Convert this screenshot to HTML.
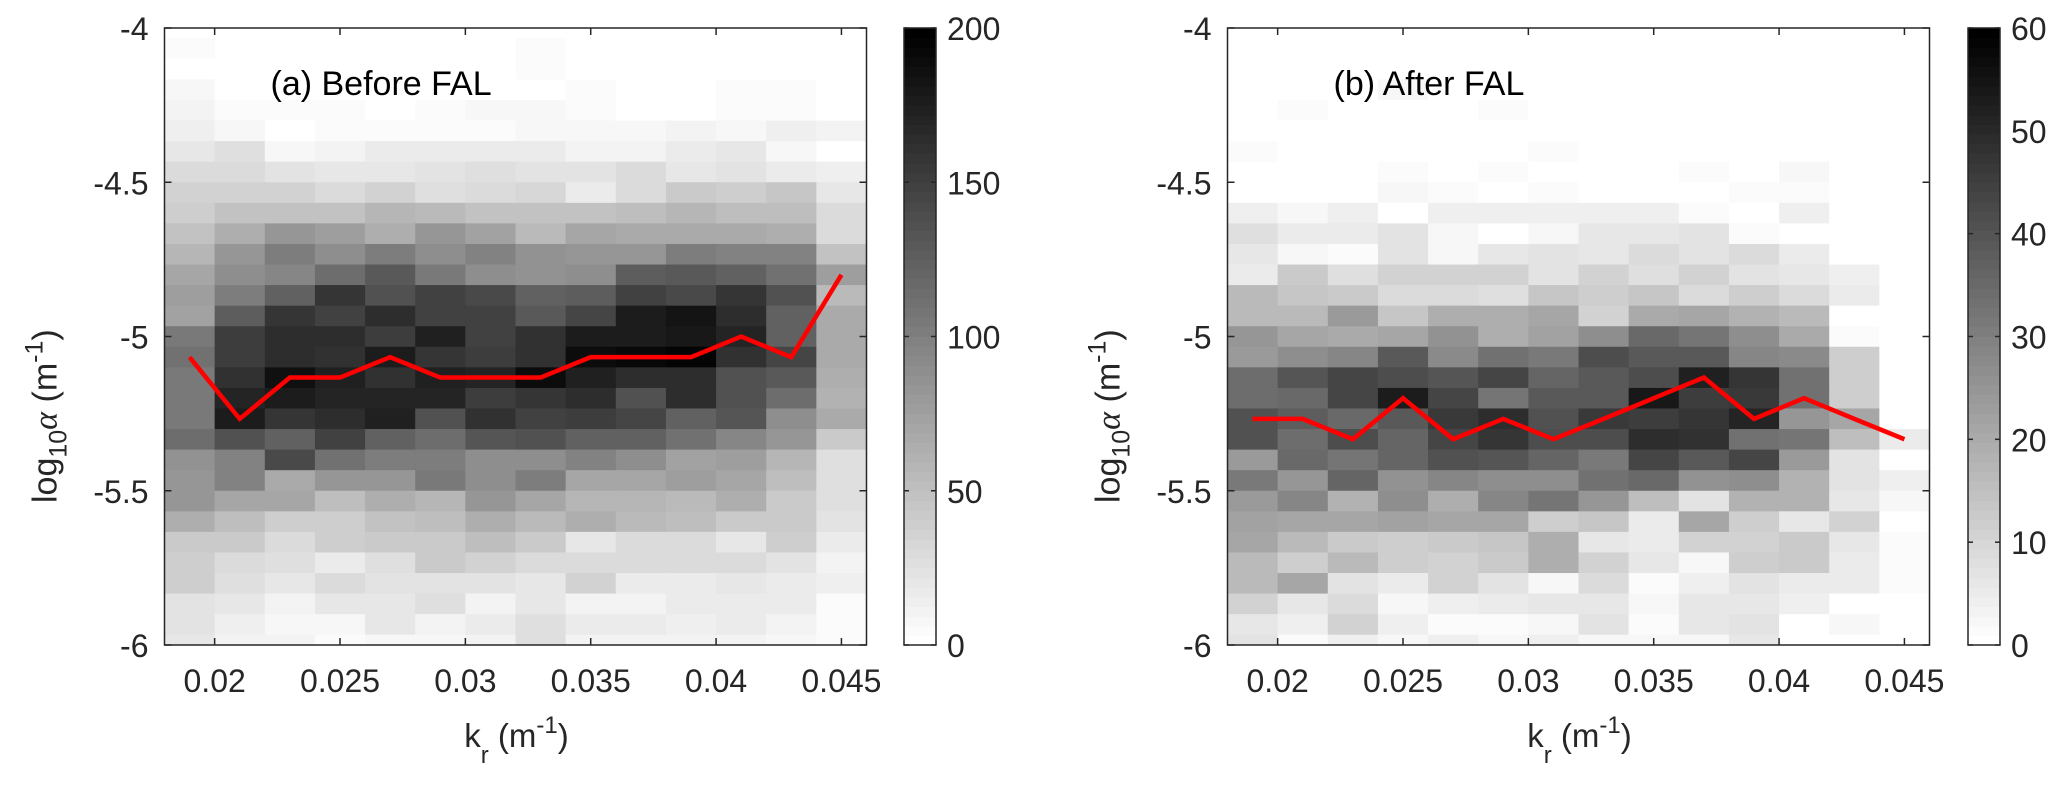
<!DOCTYPE html>
<html><head><meta charset="utf-8"><style>
html,body{margin:0;padding:0;background:#fff;}
svg{display:block;font-family:"Liberation Sans",Arial,sans-serif;}
</style></head><body>
<svg id="fig" width="2067" height="785" viewBox="0 0 2067 785" xmlns="http://www.w3.org/2000/svg"></svg>
<script>
// ---- data ----
const kCenters = [0.019,0.021,0.023,0.025,0.027,0.029,0.031,0.033,0.035,0.037,0.039,0.041,0.043,0.045];
const alphaRowTops = [-4.0333,-4.1,-4.1667,-4.2333,-4.3,-4.3667,-4.4333,-4.5,-4.5667,-4.6333,-4.7,-4.7667,-4.8333,-4.9,-4.9667,-5.0333,-5.1,-5.1667,-5.2333,-5.3,-5.3667,-5.4333,-5.5,-5.5667,-5.6333,-5.7,-5.7667,-5.8333,-5.9,-5.9667];
const xTicks = [0.02,0.025,0.03,0.035,0.04,0.045];
const xTickLabels = ["0.02","0.025","0.03","0.035","0.04","0.045"];
const yTicks = [-4,-4.5,-5,-5.5,-6];
const yTickLabels = ["-4","-4.5","-5","-5.5","-6"];
const cbTicksA = [0,50,100,150,200];
const cbTicksB = [0,10,20,30,40,50,60];
const countsA = [
[5,0,0,0,0,0,0,5,0,0,0,0,0,0],
[0,0,0,0,0,0,0,4,0,0,0,0,0,0],
[8,0,0,0,0,0,0,0,5,0,0,4,4,0],
[10,4,4,4,2,4,8,9,4,0,0,4,4,0],
[13,8,0,4,4,4,4,8,8,9,12,9,13,10],
[20,27,8,12,16,16,17,18,12,12,16,20,8,0],
[31,29,24,20,21,24,26,24,24,29,20,24,16,13],
[35,35,35,31,35,27,31,33,18,29,43,39,45,21],
[39,47,49,47,59,55,47,49,47,51,59,51,51,31],
[47,63,82,78,63,84,74,55,71,67,67,68,63,31],
[59,82,102,90,102,90,98,86,84,84,102,98,98,47],
[71,90,94,114,129,106,90,86,90,125,129,122,110,78],
[78,102,122,157,137,149,141,122,125,149,141,157,137,55],
[74,125,157,149,165,149,149,129,145,176,184,165,122,67],
[106,153,165,165,153,172,149,161,176,176,180,169,122,67],
[110,153,165,161,176,157,153,161,188,191,196,161,145,67],
[106,161,186,172,161,172,169,188,172,165,165,137,129,65],
[106,169,176,169,169,169,153,157,165,137,165,137,114,60],
[106,176,157,165,172,137,161,149,153,145,122,133,90,67],
[114,137,122,149,122,114,133,137,122,122,110,94,82,43],
[86,98,141,110,102,102,90,90,98,90,74,78,59,27],
[82,98,67,82,82,106,90,102,71,71,78,71,51,27],
[82,71,71,51,63,59,82,71,59,59,55,63,43,27],
[63,51,39,39,47,51,63,55,63,55,51,43,43,24],
[43,43,31,39,43,43,51,43,20,31,31,20,39,16],
[39,31,27,18,27,43,35,31,31,31,31,31,24,12],
[39,27,20,31,24,24,24,20,35,16,16,20,18,13],
[24,21,12,20,21,27,12,20,12,10,16,18,16,5],
[24,13,8,8,21,10,18,27,16,16,13,16,12,5],
[20,12,12,4,8,8,12,27,12,12,10,12,8,4]
];
const countsB = [
[0,0,0,0,0,0,0,0,0,0,0,0,0,0],
[0,0,0,0,0,0,0,0,0,0,0,0,0,0],
[0,0,0,2,0,0,0,0,0,0,0,0,0,0],
[0,1,0,0,0,1,0,0,0,0,0,0,0,0],
[0,0,0,0,0,0,0,0,0,0,0,0,0,0],
[1,0,0,0,0,0,1,0,0,0,0,0,0,0],
[0,0,0,1,0,1,0,0,0,1,0,2,0,0],
[0,0,0,2,1,0,1,0,0,0,1,1,0,0],
[4,2,4,0,4,4,4,4,4,1,0,4,0,0],
[8,5,5,7,2,0,2,6,6,7,1,0,0,0],
[6,2,1,7,2,6,7,6,9,7,9,5,0,0],
[5,13,8,11,11,11,7,11,8,11,7,6,4,0],
[16,14,13,9,9,8,14,12,14,9,12,9,5,0],
[16,16,24,14,19,19,21,11,20,21,18,16,0,0],
[25,21,20,21,26,19,22,27,35,32,27,20,1,0],
[24,27,29,39,28,33,31,42,39,39,29,28,12,0],
[34,40,44,42,40,44,36,39,42,52,47,33,12,0],
[34,35,44,53,44,32,39,39,54,45,46,33,12,0],
[41,38,35,39,46,49,41,46,45,47,51,25,21,0],
[41,34,42,36,44,47,42,42,49,48,33,32,15,5],
[24,35,32,36,41,40,36,31,44,39,44,24,7,0],
[31,25,36,26,29,27,27,33,35,26,27,18,7,4],
[24,29,18,27,19,29,32,25,15,7,18,18,6,2],
[22,21,21,22,21,21,12,14,5,21,12,6,11,0],
[21,16,13,12,13,14,19,6,5,11,11,13,6,1],
[16,12,16,12,11,13,19,11,6,2,12,13,5,1],
[16,21,7,5,11,7,2,9,1,4,7,5,5,1],
[11,6,9,2,4,5,6,6,2,6,6,4,0,0],
[6,4,11,4,1,1,2,7,1,6,7,0,2,0],
[7,1,4,2,4,2,4,2,2,2,6,0,0,0]
];
const medianA = [-5.067,-5.267,-5.133,-5.133,-5.067,-5.133,-5.133,-5.133,-5.067,-5.067,-5.067,-5.0,-5.067,-4.8];
const medianB = [-5.267,-5.267,-5.333,-5.2,-5.333,-5.267,-5.333,-5.267,-5.2,-5.133,-5.267,-5.2,-5.267,-5.333];

// ---- drawing ----
const NS = "http://www.w3.org/2000/svg";
const svg = document.getElementById('fig');
function mk(tag, attrs, parent){
  const e = document.createElementNS(NS, tag);
  for (const k in attrs) e.setAttribute(k, attrs[k]);
  (parent||svg).appendChild(e);
  return e;
}
const binW = 0.002, binH = 1/15;
const X0 = 0.018, X1 = 0.046, Y0 = -6, Y1 = -4;
function gray(v, max){
  let idx = Math.min(63, Math.max(0, Math.floor(v/max*64)));
  const g = Math.round(255*(1 - idx/63));
  return `rgb(${g},${g},${g})`;
}
function panel(cfg){
  const L = cfg.left, T = 28, W = 702, H = 617;
  const xs = k => L + (k - X0)/(X1 - X0)*W;
  const ys = a => T + (Y1 - a)/(Y1 - Y0)*H;
  const g = mk('g', {});
  
  
  const clipId = cfg.name + '-clip';
  const defs = mk('defs', {}, g);
  const cp = mk('clipPath', {id: clipId}, defs);
  mk('rect', {x:L, y:T, width:W, height:H}, cp);
  const hm = mk('g', {'clip-path':`url(#${clipId})`}, g);
  
  
  for (let i=0;i<alphaRowTops.length;i++){
    for (let j=0;j<kCenters.length;j++){
      const x0 = xs(kCenters[j]-binW/2), x1 = xs(kCenters[j]+binW/2);
      const y0 = ys(alphaRowTops[i]), y1 = ys(alphaRowTops[i]-binH);
      const r = mk('rect', {x:x0.toFixed(2), y:y0.toFixed(2), width:(x1-x0+0.6).toFixed(2), height:(y1-y0+0.6).toFixed(2), fill:gray(cfg.counts[i][j], cfg.max)}, hm);
      
      
    }
  }
  // median line
  const pts = kCenters.map((k,i)=>xs(k).toFixed(2)+','+ys(cfg.line[i]).toFixed(2)).join(' ');
  const pl = mk('polyline', {points:pts, fill:'none', stroke:'#ff0000', 'stroke-width':4.5, 'stroke-linejoin':'miter'}, g);
  
  
  // box
  const box = mk('rect', {x:L, y:T, width:W, height:H, fill:'none', stroke:'#262626', 'stroke-width':1.5}, g);
  
  
  // x ticks
  xTicks.forEach((t,i)=>{
    const x = xs(t);
    mk('line', {x1:x, y1:T+H, x2:x, y2:T+H-7, stroke:'#262626', 'stroke-width':1.5}, g);
    mk('line', {x1:x, y1:T, x2:x, y2:T+7, stroke:'#262626', 'stroke-width':1.5}, g);
    const tx = mk('text', {x:x, y:692, 'font-size':32, 'text-anchor':'middle', fill:'#262626'}, g);
    tx.textContent = xTickLabels[i];
    
    
  });
  yTicks.forEach((t,i)=>{
    const y = ys(t);
    mk('line', {x1:L, y1:y, x2:L+7, y2:y, stroke:'#262626', 'stroke-width':1.5}, g);
    mk('line', {x1:L+W, y1:y, x2:L+W-7, y2:y, stroke:'#262626', 'stroke-width':1.5}, g);
    const tx = mk('text', {x:L-16, y:y+12, 'font-size':32, 'text-anchor':'end', fill:'#262626'}, g);
    tx.textContent = yTickLabels[i];
    
    
  });
  // panel title
  const tt = mk('text', {x:L+cfg.titleDx, y:95, 'font-size':34, fill:'#000'}, g);
  tt.textContent = cfg.title;
  
  
  // x axis title
  const xt = mk('text', {x:L+W/2+1, y:747, 'font-size':33, 'text-anchor':'middle', fill:'#262626'}, g);
  
  
  xt.innerHTML = 'k<tspan dy="16" font-size="24">r</tspan><tspan dy="-16"> (m</tspan><tspan dy="-14" font-size="24">-1</tspan><tspan dy="14">)</tspan>';
  // y axis title
  const yx = L - 108, yy = 503;
  const yt = mk('text', {x:yx, y:yy, 'font-size':34, fill:'#262626', transform:`rotate(-90 ${yx} ${yy})`}, g);
  
  
  yt.innerHTML = 'log<tspan dy="10" font-size="25">10</tspan><tspan dy="-10" font-family="Liberation Serif" font-style="italic">α</tspan><tspan> (m</tspan><tspan dy="-14" font-size="25">-1</tspan><tspan dy="14">)</tspan>';
  // colorbar
  const cb = mk('g', {}, g);
  
  
  const cx = cfg.cbx, cw = 32;
  for (let k=0;k<64;k++){
    const gv = Math.round(255*(1 - k/63));
    const y0 = T + H - (k+1)*H/64;
    mk('rect', {x:cx, y:y0.toFixed(2), width:cw, height:(H/64+0.5).toFixed(2), fill:`rgb(${gv},${gv},${gv})`}, cb);
  }
  mk('rect', {x:cx, y:T, width:cw, height:H, fill:'none', stroke:'#262626', 'stroke-width':1.5}, cb);
  cfg.cbTicks.forEach(t=>{
    const y = T + H - t/cfg.max*H;
    mk('line', {x1:cx, y1:y, x2:cx+5, y2:y, stroke:'#262626', 'stroke-width':1.5}, cb);
    mk('line', {x1:cx+cw, y1:y, x2:cx+cw-5, y2:y, stroke:'#262626', 'stroke-width':1.5}, cb);
    const tx = mk('text', {x:cx+cw+11, y:y+12, 'font-size':32, fill:'#262626'}, cb);
    tx.textContent = String(t);
    
    
  });
}
panel({name:'panel-a-before-fal', left:164.5, counts:countsA, max:200, line:medianA, title:'(a) Before FAL', titleDx:106, cbx:904, cbTicks:cbTicksA});
panel({name:'panel-b-after-fal', left:1227.5, counts:countsB, max:60, line:medianB, title:'(b) After FAL', titleDx:106, cbx:1968, cbTicks:cbTicksB});
</script>
</body></html>
